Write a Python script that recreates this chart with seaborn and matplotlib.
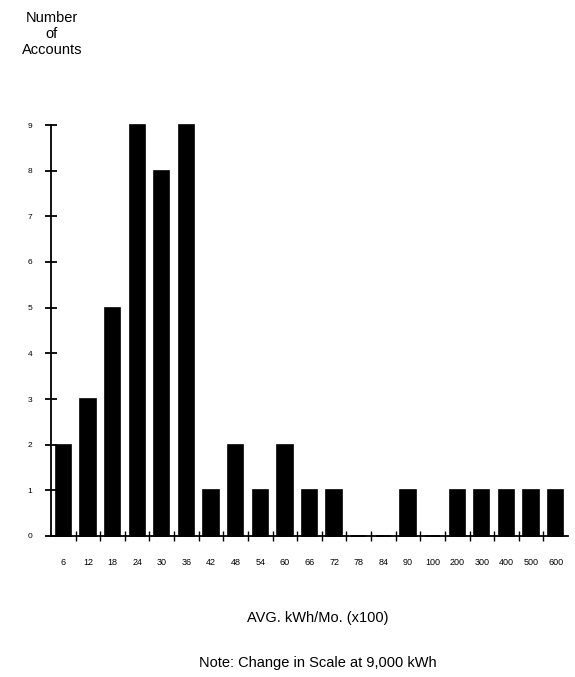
import matplotlib
matplotlib.use("Agg")
import matplotlib.pyplot as plt
import seaborn as sns
import pandas as pd
import numpy as np

categories = ["6", "12", "18", "24", "30", "36", "42", "48", "54", "60", "66",
              "72", "78", "84", "90", "100", "200", "300", "400", "500", "600"]
counts = [2, 3, 5, 9, 8, 9, 1, 2, 1, 2, 1, 1, 0, 0, 1, 0, 1, 1, 1, 1, 1]
y_ticks = [0, 1, 2, 3, 4, 5, 6, 7, 8, 9]

sns.set_theme(style="white")
plt.rcParams['font.family'] = ['Liberation Sans', 'DejaVu Sans']
plt.rcParams['text.color'] = 'black'
plt.rcParams['xtick.color'] = 'black'
plt.rcParams['ytick.color'] = 'black'

df = pd.DataFrame({"cat": categories, "count": counts})

fig = plt.figure(figsize=(5.75, 6.77), dpi=100)
ax = fig.add_axes([51/575, 1 - 536/677, (568 - 51)/575, (536 - 125)/677])

sns.barplot(data=df, x="cat", y="count", color="black", width=0.62,
            edgecolor="black", linewidth=1.2, saturation=1, ax=ax, order=categories)

ax.set_xlim(-0.5, len(categories) - 0.5)
ax.set_ylim(0, 9)
for p in ax.patches:
    p.set_clip_on(False)
for s in ["top", "right"]:
    ax.spines[s].set_visible(False)
for s in ["left", "bottom"]:
    ax.spines[s].set_color("black")
    ax.spines[s].set_linewidth(1.3)

ax.set_yticks(y_ticks)
ax.set_yticklabels([str(v) for v in y_ticks], fontsize=6)
ax.tick_params(axis="y", left=True, direction="inout", length=9, width=1.3, pad=9,
               colors="black")

ax.set_xticks(range(len(categories)))
ax.set_xticklabels(categories, fontsize=6.5)
ax.tick_params(axis="x", which="major", bottom=True, length=0, pad=16, colors="black")
ax.set_xticks(np.arange(0.5, len(categories) - 0.5, 1), minor=True)
ax.tick_params(axis="x", which="minor", bottom=True, direction="inout", length=7,
               width=1.0, colors="black")

ax.set_xlabel("")
ax.set_ylabel("")

fig.text(52/575, 1 - 34/677, "Number\nof\nAccounts", ha="center", va="center",
         fontsize=10.5, linespacing=1.15, color="black")
fig.text(318/575, 1 - 618/677, "AVG. kWh/Mo. (x100)", ha="center", va="center",
         fontsize=10.5, color="black")
fig.text(318/575, 1 - 663/677, "Note: Change in Scale at 9,000 kWh", ha="center",
         va="center", fontsize=10.5, color="black")

fig.savefig("out.png", dpi=100)
